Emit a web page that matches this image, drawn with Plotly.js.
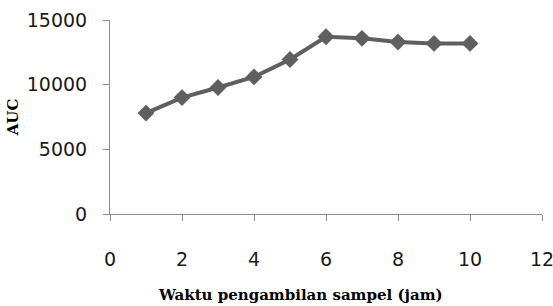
<!DOCTYPE html>
<html>
<head>
<meta charset="utf-8">
<script src="https://cdn.plot.ly/plotly-3.0.1.min.js"></script>
<style>html,body{margin:0;padding:0;background:#fff;}#chart{width:553px;height:306px;}</style>
</head>
<body>
<div id="chart"></div>
<script>
const hours = [1, 2, 3, 4, 5, 6, 7, 8, 9, 10];
const auc = [7800, 9000, 9780, 10600, 11950, 13700, 13580, 13300, 13190, 13190];
const xTicks = [0, 2, 4, 6, 8, 10, 12];
const yTicks = [0, 5000, 10000, 15000];
const xTitle = 'Waktu pengambilan sampel (jam)';
const yTitle = 'AUC';

const trace = {
  x: hours, y: auc, type: 'scatter', mode: 'lines+markers',
  line: {color: '#5f5f5f', width: 4},
  marker: {symbol: 'diamond', size: 13, color: '#5f5f5f'},
  hoverinfo: 'none'
};
const layout = {
  width: 553, height: 306,
  margin: {l: 110, r: 11, t: 20, b: 92},
  paper_bgcolor: '#fff', plot_bgcolor: '#fff',
  showlegend: false,
  font: {family: 'DejaVu Sans, sans-serif', color: '#000'},
  xaxis: {
    range: [0, 12], tickvals: xTicks, ticktext: xTicks.map(String),
    showgrid: false, zeroline: false, showline: true, linecolor: '#8c8c8c', linewidth: 1,
    ticks: 'outside', ticklen: 6, tickcolor: '#8c8c8c', ticklabelstandoff: 22,
    ticklabeloverflow: 'allow',
    tickfont: {size: 19, family: 'DejaVu Sans, sans-serif', color: '#1a1a1a'}
  },
  yaxis: {
    range: [0, 15000], tickvals: yTicks, ticktext: yTicks.map(String),
    showgrid: false, zeroline: false, showline: true, linecolor: '#8c8c8c', linewidth: 1,
    ticks: 'outside', ticklen: 6, tickcolor: '#8c8c8c', ticklabelstandoff: 12,
    tickfont: {size: 19, family: 'DejaVu Sans, sans-serif', color: '#1a1a1a'},
    title: {text: yTitle, font: {family: 'DejaVu Serif, serif', size: 15, color: '#000', weight: 'bold'}, standoff: 4}
  },
  annotations: [{
    text: xTitle, xref: 'paper', yref: 'paper', x: 0.442, y: -0.415,
    xanchor: 'center', yanchor: 'middle', showarrow: false,
    font: {family: 'DejaVu Serif, serif', size: 15, color: '#000', weight: 'bold'}
  }]
};
Plotly.newPlot('chart', [trace], layout, {staticPlot: true, displayModeBar: false});
</script>
</body>
</html>
